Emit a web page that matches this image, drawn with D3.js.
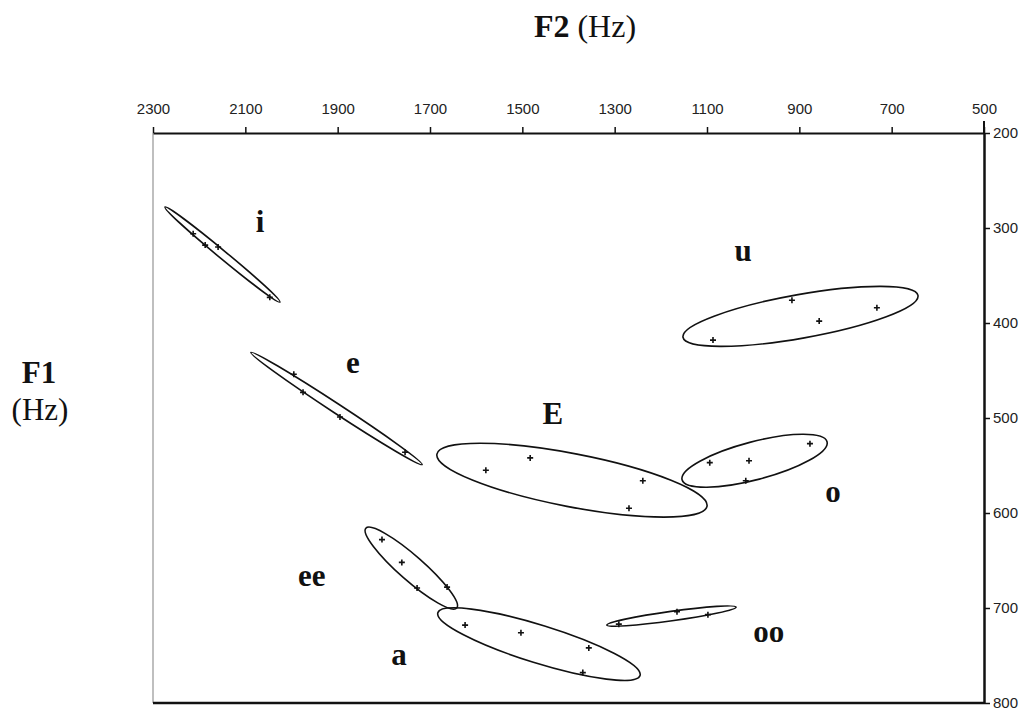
<!DOCTYPE html>
<html>
<head>
<meta charset="utf-8">
<script src="https://cdn.jsdelivr.net/npm/d3@7"></script>
<style>
  html, body { margin: 0; padding: 0; background: #fff; }
  svg { display: block; }
</style>
</head>
<body>
<div id="chart"></div>
<script>
// ---- Data ----
const f2Ticks = [2300, 2100, 1900, 1700, 1500, 1300, 1100, 900, 700, 500];
const f1Ticks = [200, 300, 400, 500, 600, 700, 800];

const vowels = ["i", "e", "E", "u", "o", "ee", "a", "oo"];

// label anchor (F2, F1)
const labelF2 = [2068, 1867, 1434, 1022, 827, 1956, 1767, 966];
const labelF1 = [304, 453, 506, 335, 588, 677, 760, 736];

// ellipse major-axis end points (F2, F1) and minor semi-axis (Hz of F1)
const tipAF2 = [2274, 2088, 1685, 1152, 1154, 1839, 1683, 1317];
const tipAF1 = [278, 431, 538, 415, 565, 616, 705, 718];
const tipBF2 = [2025, 1717, 1100, 643, 840, 1642, 1245, 1037];
const tipBF1 = [378, 549, 593, 371, 525, 700, 771, 699];
const minorHz = [4.2, 5, 28, 23, 20, 13, 20, 5];

// measured tokens for each vowel (F2, F1)
const tokenF2 = [
  [2213, 2187, 2159, 2047],
  [1995, 1975, 1895, 1754],
  [1483, 1579, 1239, 1269],
  [1087, 916, 857, 732],
  [1094, 1009, 1016, 877],
  [1804, 1761, 1728, 1663],
  [1624, 1503, 1356, 1369],
  [1291, 1165, 1098]
];
const tokenF1 = [
  [306, 318, 320, 373],
  [454, 473, 499, 536],
  [542, 555, 566, 595],
  [418, 376, 398, 384],
  [547, 545, 566, 527],
  [628, 652, 679, 678],
  [718, 726, 742, 768],
  [717, 704, 707]
];

// ---- Layout ----
const W = 1028, H = 714;
const svg = d3.select("#chart").append("svg").attr("width", W).attr("height", H);

const x = d3.scaleLinear().domain([2300, 500]).range([153, 984]);
const y = d3.scaleLinear().domain([200, 800]).range([133, 703]);

// frame: left light line, bottom thick line
svg.append("line")
  .attr("x1", x(2300)).attr("x2", x(2300)).attr("y1", y(200)).attr("y2", y(800))
  .attr("stroke", "#aaa").attr("stroke-width", 1.5);
svg.append("line")
  .attr("x1", x(2300)).attr("x2", x(500)).attr("y1", y(800)).attr("y2", y(800))
  .attr("stroke", "#111").attr("stroke-width", 2.5);
// right axis extension above top
svg.append("line")
  .attr("x1", x(500)).attr("x2", x(500)).attr("y1", y(200) - 12).attr("y2", y(200))
  .attr("stroke", "#111").attr("stroke-width", 2);

// top axis
const gTop = svg.append("g").attr("transform", `translate(0,${y(200)})`)
  .call(d3.axisTop(x).tickValues(f2Ticks).tickSize(6).tickSizeOuter(0).tickPadding(13).tickFormat(d3.format("d")));
gTop.select(".domain").attr("stroke", "#111").attr("stroke-width", 2);
gTop.selectAll(".tick line").attr("stroke", "#111").attr("stroke-width", 1.5);
gTop.selectAll(".tick text").attr("font-family", "Liberation Sans, Arial, sans-serif")
  .attr("font-size", 15).attr("fill", "#222");

// right axis
const gRight = svg.append("g").attr("transform", `translate(${x(500)},0)`)
  .call(d3.axisRight(y).tickValues(f1Ticks).tickSize(6).tickSizeOuter(0).tickPadding(3).tickFormat(d3.format("d")));
gRight.select(".domain").attr("stroke", "#111").attr("stroke-width", 2.5);
gRight.selectAll(".tick line").attr("stroke", "#111").attr("stroke-width", 1.5);
gRight.selectAll(".tick text").attr("font-family", "Liberation Sans, Arial, sans-serif")
  .attr("font-size", 15).attr("fill", "#222");

// titles
const title = svg.append("text").attr("x", 585).attr("y", 37)
  .attr("text-anchor", "middle")
  .attr("font-family", "Liberation Serif, Times New Roman, serif")
  .attr("font-size", 32).attr("fill", "#111");
title.append("tspan").attr("font-weight", "bold").text("F2");
title.append("tspan").text(" (Hz)");

svg.append("text").attr("x", 39).attr("y", 383).attr("text-anchor", "middle")
  .attr("font-family", "Liberation Serif, Times New Roman, serif")
  .attr("font-size", 31).attr("font-weight", "bold").attr("fill", "#111").text("F1");
svg.append("text").attr("x", 40).attr("y", 420).attr("text-anchor", "middle")
  .attr("font-family", "Liberation Serif, Times New Roman, serif")
  .attr("font-size", 31).attr("fill", "#111").text("(Hz)");

// ellipses
const ell = vowels.map((v, i) => {
  const ax = x(tipAF2[i]), ay = y(tipAF1[i]);
  const bx = x(tipBF2[i]), by = y(tipBF1[i]);
  const cx = (ax + bx) / 2, cy = (ay + by) / 2;
  const rx = Math.hypot(bx - ax, by - ay) / 2;
  const ang = Math.atan2(by - ay, bx - ax) * 180 / Math.PI;
  const ry = y(200 + minorHz[i]) - y(200);
  return { v, cx, cy, rx, ry, ang };
});

svg.append("g").selectAll("ellipse").data(ell).join("ellipse")
  .attr("transform", d => `translate(${d.cx},${d.cy}) rotate(${d.ang})`)
  .attr("rx", d => d.rx).attr("ry", d => d.ry)
  .attr("fill", "none").attr("stroke", "#111").attr("stroke-width", 1.6);

// tokens
const tokens = [];
vowels.forEach((v, i) => tokenF2[i].forEach((f2, j) => tokens.push({ f2, f1: tokenF1[i][j] })));
svg.append("g").selectAll("path").data(tokens).join("path")
  .attr("d", d => {
    const px = x(d.f2), py = y(d.f1), s = 3;
    return `M${px - s},${py}H${px + s}M${px},${py - s}V${py + s}`;
  })
  .attr("stroke", "#111").attr("stroke-width", 1.6).attr("fill", "none");

// vowel labels
svg.append("g").selectAll("text").data(vowels).join("text")
  .attr("x", (d, i) => x(labelF2[i])).attr("y", (d, i) => y(labelF1[i]))
  .attr("text-anchor", "middle")
  .attr("font-family", "Liberation Serif, Times New Roman, serif")
  .attr("font-weight", "bold").attr("font-size", 31).attr("fill", "#111")
  .text(d => d);
</script>
</body>
</html>
